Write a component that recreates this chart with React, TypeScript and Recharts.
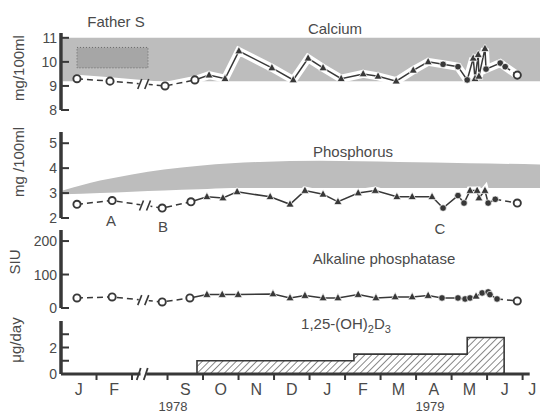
import React from 'react';
import { ComposedChart, Line, Area, Scatter, XAxis, YAxis, ReferenceArea, ReferenceDot, ReferenceLine } from 'recharts';

// time axis is in "display months": 0 = start of Jan 1978, Mar–Aug squeezed into one slot (2–3)
const MONTH_TICKS = [1, 2, 3, 4, 5, 6, 7, 8, 9, 10, 11, 12, 13];
const MONTH_POS = [0.5, 1.5, 3.5, 4.5, 5.5, 6.5, 7.5, 8.5, 9.5, 10.5, 11.5, 12.5, 13.27];
const MONTH_LABELS = ['J', 'F', 'S', 'O', 'N', 'D', 'J', 'F', 'M', 'A', 'M', 'J', 'J'];
const YEAR_LABELS = ['1978', '1979'];

// calcium, mg/100ml
const CA_X = [0.45, 1.38, 2.93, 3.77, 4.17, 4.62, 5.01, 5.94, 6.54, 6.96, 7.38, 7.89, 8.51, 8.93, 9.44, 9.92, 10.34, 10.76, 11.18, 11.44, 11.61, 11.66, 11.75, 11.77, 11.94, 11.97, 12.37, 12.51, 12.85];
const CA_Y = [9.3, 9.2, 9.0, 9.25, 9.45, 9.3, 10.45, 9.75, 9.25, 10.15, 9.75, 9.3, 9.5, 9.4, 9.2, 9.65, 10.0, 9.9, 9.8, 9.25, 10.15, 9.3, 10.3, 9.4, 10.55, 9.7, 9.95, 9.8, 9.45];
const CA_S = ['o', 'o', 'o', 'o', 't', 't', 't', 't', 't', 't', 't', 't', 't', 't', 't', 't', 't', 'c', 'c', 'c', 't', 't', 't', 't', 't', 'c', 'c', 'c', 'o'];
const CA_TICKS = [8, 9, 10, 11];
const CA_TICK_LABELS = ['8', '9', '10', '11'];
const CA_BAND_X = [0.05, 13.49];
const CA_BAND_LO = [9.2, 9.2];
const CA_BAND_HI = [11, 11];

// phosphorus, mg/100ml
const P_X = [0.45, 1.44, 2.85, 3.66, 4.11, 4.56, 4.96, 5.89, 6.45, 6.87, 7.38, 7.8, 8.37, 8.85, 9.46, 9.89, 10.45, 10.76, 11.18, 11.35, 11.52, 11.72, 11.77, 11.94, 12.03, 12.23, 12.85];
const P_Y = [2.55, 2.7, 2.4, 2.65, 2.85, 2.8, 3.05, 2.85, 2.55, 3.1, 2.95, 2.65, 3.0, 3.1, 2.85, 2.85, 2.85, 2.4, 2.9, 2.6, 3.1, 3.1, 2.8, 3.1, 2.6, 2.75, 2.6];
const P_S = ['o', 'o', 'o', 'o', 't', 't', 't', 't', 't', 't', 't', 't', 't', 't', 't', 't', 't', 'c', 'c', 'c', 't', 't', 't', 't', 'c', 'c', 'o'];
const P_TICKS = [2, 3, 4, 5];
const P_TICK_LABELS = ['2', '3', '4', '5'];
const P_BAND_X = [0.05, 1.1, 2.0, 2.9, 3.9, 4.8, 5.6, 7.3, 9.5, 11.5, 13.49];
const P_BAND_LO = [2.95, 3.0, 3.05, 3.1, 3.15, 3.2, 3.2, 3.2, 3.2, 3.2, 3.2];
const P_BAND_HI = [3.1, 3.5, 3.75, 3.95, 4.1, 4.2, 4.25, 4.3, 4.25, 4.2, 4.15];

// alkaline phosphatase, SIU
const AP_X = [0.45, 1.44, 2.85, 3.63, 4.11, 4.54, 4.99, 5.97, 6.45, 6.87, 7.38, 7.8, 8.37, 8.87, 9.41, 9.89, 10.34, 10.73, 11.18, 11.38, 11.52, 11.69, 11.86, 12.03, 12.08, 12.28, 12.85];
const AP_Y = [30, 33, 18, 30, 40, 40, 40, 42, 30, 37, 30, 30, 40, 30, 33, 33, 37, 30, 30, 27, 30, 35, 45, 48, 40, 27, 21];
const AP_S = ['o', 'o', 'o', 'o', 't', 't', 't', 't', 't', 't', 't', 't', 't', 't', 't', 't', 't', 'c', 'c', 'c', 'c', 't', 'c', 'c', 'c', 'c', 'o'];
const AP_TICKS = [0, 100, 200];
const AP_TICK_LABELS = ['0', '100', '200'];

// 1,25-(OH)2D3 dose, ug/day
const D3_START = [3.83, 8.25, 11.44];
const D3_DOSE = [1, 1.5, 2.75];
const D3_END = 12.48;
const D3_TICKS = [0, 1, 2, 3];
const D3_TICK_LABELS = ['0', '', '2', ''];

const INK = '#383838';
const TEXT = '#4a4a4a';
const BAND = '#bdbdbd';
const FONT = '"Liberation Sans", Arial, sans-serif';
const PLOT_LEFT = 61;
const X_MAX = 13.49;
const BREAK_X = 2.33;

const toPts = (xs: number[], ys: number[], ss: string[]) => xs.map((x, i) => ({ x, y: ys[i], s: ss[i] }));
const toBand = (xs: number[], lo: number[], hi: number[]) => xs.map((x, i) => ({ x, band: [lo[i], hi[i]] }));

function interpY(xs: number[], ys: number[], x: number) {
  for (let i = 0; i < xs.length - 1; i++) {
    if (x >= xs[i] && x <= xs[i + 1]) {
      const t = (x - xs[i]) / (xs[i + 1] - xs[i]);
      return ys[i] + t * (ys[i + 1] - ys[i]);
    }
  }
  return ys[0];
}

const Marker = (props: any) => {
  const { cx, cy, payload } = props;
  if (cx == null || cy == null || isNaN(cx) || isNaN(cy)) return <g />;
  if (payload.s === 'o') return <circle cx={cx} cy={cy} r={3.6} fill="#fff" stroke={INK} strokeWidth={1.9} />;
  if (payload.s === 'c') return <circle cx={cx} cy={cy} r={3.3} fill={INK} stroke="#fff" strokeWidth={0.7} />;
  return <path d={`M${cx},${cy - 4.6} L${cx + 4},${cy + 2.8} L${cx - 4},${cy + 2.8} Z`} fill={INK} stroke="#fff" strokeWidth={0.7} />;
};

const BreakMark = (props: any) => {
  const { cx, cy } = props;
  return (
    <g>
      <rect x={cx - 5} y={cy - 4} width={10} height={8} fill="#fff" />
      <line x1={cx - 6} y1={cy + 5} x2={cx - 2} y2={cy - 5} stroke={INK} strokeWidth={1.6} />
      <line x1={cx + 1} y1={cy + 5} x2={cx + 5} y2={cy - 5} stroke={INK} strokeWidth={1.6} />
    </g>
  );
};

const AxisBreak = (props: any) => {
  const { cx, cy } = props;
  return (
    <g>
      <line x1={cx - 7} y1={cy + 6} x2={cx - 3} y2={cy - 6} stroke={INK} strokeWidth={1.8} />
      <line x1={cx} y1={cy + 6} x2={cx + 4} y2={cy - 6} stroke={INK} strokeWidth={1.8} />
    </g>
  );
};

const yTick = (ticks: number[], labels: string[]) => (props: any) => {
  const { y, payload } = props;
  const i = ticks.indexOf(payload.value);
  return (
    <g>
      <line x1={PLOT_LEFT} x2={PLOT_LEFT + 8} y1={y} y2={y} stroke={INK} strokeWidth={2} />
      <text x={PLOT_LEFT - 4} y={y} dy="0.36em" textAnchor="end" fontSize={14} fill={TEXT} fontFamily={FONT}>
        {labels[i]}
      </text>
    </g>
  );
};

const MonthTick = (props: any) => {
  const { x, y, payload } = props;
  const i = MONTH_POS.indexOf(payload.value);
  return (
    <text x={x} y={y} dy="0.71em" textAnchor="middle" fontSize={16} fill={TEXT} fontFamily={FONT}>
      {MONTH_LABELS[i]}
    </text>
  );
};

const NoTick = () => <g />;

function series(pts: { x: number; y: number; s: string }[], halo: boolean) {
  const n = pts.length;
  const common = { dataKey: 'y', dot: false, activeDot: false, isAnimationActive: false, type: 'linear' as const };
  return [
    halo ? <Line key="halo" data={pts} {...common} stroke="#fff" strokeWidth={8} /> : null,
    <Line key="pre" data={pts.slice(0, 4)} {...common} stroke={INK} strokeWidth={1.5} strokeDasharray="6 4" />,
    <Line key="mid" data={pts.slice(3, n - 1)} {...common} stroke={INK} strokeWidth={1.5} />,
    <Line key="post" data={pts.slice(n - 2)} {...common} stroke={INK} strokeWidth={1.5} strokeDasharray="6 4" />,
    <Scatter key="pts" data={pts} dataKey="y" shape={Marker} isAnimationActive={false} />,
  ];
}

const Txt = ({ x, y, size = 15, children, rotate = false }: any) => (
  <div
    style={{
      position: 'absolute', left: x, top: y, fontSize: size, color: TEXT, fontFamily: FONT,
      whiteSpace: 'nowrap', lineHeight: 1,
      transform: `translate(-50%, -50%)${rotate ? ' rotate(-90deg)' : ''}`,
    }}
  >
    {children}
  </div>
);

const xHidden = <XAxis type="number" dataKey="x" domain={[0, X_MAX]} hide allowDataOverflow />;

export default function App() {
  const ca = toPts(CA_X, CA_Y, CA_S);
  const ph = toPts(P_X, P_Y, P_S);
  const ap = toPts(AP_X, AP_Y, AP_S);
  const d3: { x: number; y: number }[] = [{ x: D3_START[0], y: 0 }];
  D3_START.forEach((x, i) => d3.push({ x, y: D3_DOSE[i] }));
  d3.push({ x: D3_END, y: D3_DOSE[D3_DOSE.length - 1] }, { x: D3_END, y: 0 });

  const axisLine = { stroke: INK, strokeWidth: 3.5 };

  return (
    <div style={{ position: 'absolute', left: 0, top: 0, width: 540, height: 412, background: '#fff', overflow: 'hidden' }}>
      <div style={{ position: 'absolute', left: 0, top: 0 }}>
        <ComposedChart width={540} height={120} margin={{ top: 33, right: 0, left: 0, bottom: 10 }}>
          {xHidden}
          <YAxis type="number" dataKey="y" width={PLOT_LEFT} domain={[8, 11.2]} ticks={CA_TICKS} interval={0}
            tick={yTick(CA_TICKS, CA_TICK_LABELS)} tickLine={false} tickSize={0} axisLine={axisLine} allowDataOverflow />
          <Area data={toBand(CA_BAND_X, CA_BAND_LO, CA_BAND_HI)} dataKey="band" type="linear" fill={BAND} fillOpacity={1} stroke="none" isAnimationActive={false} />
          <ReferenceArea x1={0.45} x2={2.45} y1={9.75} y2={10.6} fill="#9c9c9c" fillOpacity={0.7} stroke="#6a6a6a" strokeDasharray="1 2" />
          {series(ca, true)}
          <ReferenceDot x={BREAK_X} y={interpY(CA_X, CA_Y, BREAK_X)} shape={BreakMark} />
        </ComposedChart>
      </div>

      <div style={{ position: 'absolute', left: 0, top: 120 }}>
        <ComposedChart width={540} height={108} margin={{ top: 12, right: 0, left: 0, bottom: 10 }}>
          {xHidden}
          <YAxis type="number" dataKey="y" width={PLOT_LEFT} domain={[2, 5.45]} ticks={P_TICKS} interval={0}
            tick={yTick(P_TICKS, P_TICK_LABELS)} tickLine={false} tickSize={0} axisLine={axisLine} allowDataOverflow />
          <Area data={toBand(P_BAND_X, P_BAND_LO, P_BAND_HI)} dataKey="band" type="monotone" fill={BAND} fillOpacity={1} stroke="none" isAnimationActive={false} />
          {series(ph, true)}
          <ReferenceDot x={BREAK_X + 0.05} y={interpY(P_X, P_Y, BREAK_X + 0.05)} shape={BreakMark} />
        </ComposedChart>
      </div>

      <div style={{ position: 'absolute', left: 0, top: 222 }}>
        <ComposedChart width={540} height={96} margin={{ top: 8, right: 0, left: 0, bottom: 10 }}>
          {xHidden}
          <YAxis type="number" dataKey="y" width={PLOT_LEFT} domain={[0, 233]} ticks={AP_TICKS} interval={0}
            tick={yTick(AP_TICKS, AP_TICK_LABELS)} tickLine={false} tickSize={0} axisLine={axisLine} allowDataOverflow />
          {series(ap, false)}
          <ReferenceDot x={BREAK_X} y={interpY(AP_X, AP_Y, BREAK_X)} shape={BreakMark} />
        </ComposedChart>
      </div>

      <div style={{ position: 'absolute', left: 0, top: 305 }}>
        <ComposedChart width={540} height={107} margin={{ top: 16, right: 0, left: 0, bottom: 0 }}>
          <defs>
            <pattern id="hatch" width="4.8" height="4.8" patternUnits="userSpaceOnUse" patternTransform="rotate(45)">
              <rect width="4.8" height="4.8" fill="#fff" />
              <line x1="0" y1="0" x2="0" y2="4.8" stroke="#4a4a4a" strokeWidth="1.3" />
            </pattern>
          </defs>
          <XAxis type="number" dataKey="x" domain={[0, X_MAX]} ticks={MONTH_TICKS} interval={0} tick={NoTick}
            tickLine={{ stroke: INK, strokeWidth: 2 }} tickSize={6} axisLine={false} height={7} allowDataOverflow />
          <XAxis xAxisId="lbl" type="number" dataKey="x" domain={[0, X_MAX]} ticks={MONTH_POS} interval={0} tick={MonthTick}
            tickLine={false} tickSize={0} tickMargin={3} axisLine={false} height={31} allowDataOverflow />
          <YAxis type="number" dataKey="y" width={PLOT_LEFT} domain={[0, 4]} ticks={D3_TICKS} interval={0}
            tick={yTick(D3_TICKS, D3_TICK_LABELS)} tickLine={false} tickSize={0} axisLine={axisLine} allowDataOverflow />
          <Area data={d3} dataKey="y" type="stepAfter" fill="url(#hatch)" fillOpacity={1} stroke={INK} strokeWidth={1.6} baseValue={0} isAnimationActive={false} />
          <ReferenceLine segment={[{ x: 0, y: 0 }, { x: 2.24, y: 0 }]} stroke={INK} strokeWidth={3} />
          <ReferenceLine segment={[{ x: 2.4, y: 0 }, { x: 13.2, y: 0 }]} stroke={INK} strokeWidth={3} />
          <ReferenceDot x={BREAK_X} y={0} shape={AxisBreak} />
        </ComposedChart>
      </div>

      <Txt x={116} y={21} size={15}>Father S</Txt>
      <Txt x={335} y={28} size={15}>Calcium</Txt>
      <Txt x={353} y={151} size={15}>Phosphorus</Txt>
      <Txt x={384} y={258} size={15}>Alkaline phosphatase</Txt>
      <Txt x={346} y={325} size={15}>
        1,25-(OH)<sub style={{ fontSize: 11 }}>2</sub>D<sub style={{ fontSize: 11 }}>3</sub>
      </Txt>
      <Txt x={111} y={220} size={15}>A</Txt>
      <Txt x={163} y={226} size={15}>B</Txt>
      <Txt x={440} y={228} size={15}>C</Txt>
      <Txt x={173} y={406} size={13}>{YEAR_LABELS[0]}</Txt>
      <Txt x={430} y={406} size={13}>{YEAR_LABELS[1]}</Txt>

      <Txt x={18} y={68} size={15} rotate>mg/100ml</Txt>
      <Txt x={18} y={162} size={15} rotate>mg /100ml</Txt>
      <Txt x={14} y={262} size={15} rotate>SIU</Txt>
      <Txt x={15} y={340} size={15} rotate>μg/day</Txt>
    </div>
  );
}
